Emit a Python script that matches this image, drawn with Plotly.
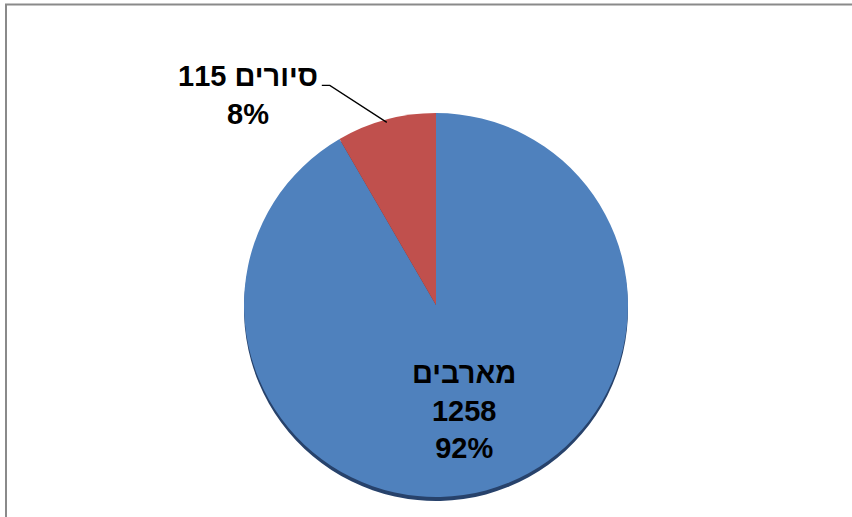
import math
import plotly.graph_objects as go

# ---- data ----
labels = ["מארבים", "סיורים"]
values = [1258, 115]
percent_text = ["92%", "8%"]
colors = ["#4f81bd", "#c0504d"]
shadow_colors = ["#27426b", "#6e2b29"]

W, H = 852, 517
cx, cy, r = 436, 305, 192  # pie centre / radius in pixels (from top-left)

def px_to_paper(x, y):
    return x / W, (H - y) / H

dom_x = [(cx - r) / W, (cx + r) / W]
dom_y = [(H - cy - r) / H, (H - cy + r) / H]
sh = 4  # shadow offset px
dom_y_sh = [(H - cy - r - sh) / H, (H - cy + r - sh) / H]

fig = go.Figure()
# soft shadow pie underneath
fig.add_trace(go.Pie(
    labels=labels, values=values, sort=False, direction="clockwise", rotation=0,
    marker=dict(colors=shadow_colors, line=dict(width=0)),
    textinfo="none", hoverinfo="skip", showlegend=False,
    domain=dict(x=dom_x, y=dom_y_sh),
))
fig.add_trace(go.Pie(
    labels=labels, values=values, sort=False, direction="clockwise", rotation=0,
    marker=dict(colors=colors, line=dict(width=0)),
    textinfo="none", showlegend=False,
    domain=dict(x=dom_x, y=dom_y),
))

total = sum(values)
# mid angles (clockwise from 12 o'clock)
cum = 0
mids = []
for v in values:
    mids.append((cum + v / 2) / total * 2 * math.pi)
    cum += v

font = dict(family="Liberation Sans, Arial, sans-serif", size=29, color="#000000", weight="bold")

# inside label for the big slice
a = mids[0]
lx = cx + 0.565 * r * math.sin(a)
ly = cy - 0.565 * r * math.cos(a) + 1
px, py = px_to_paper(lx, ly)
annotations = [dict(
    x=px, y=py, xref="paper", yref="paper", xanchor="center", yanchor="middle",
    text=f"{labels[0]}<br>{values[0]}<br>{percent_text[0]}", showarrow=False,
    font=font, align="center",
)]

# outside label with leader line for the small slice
a = mids[1]
tipx = cx + 0.985 * r * math.sin(a)
tipy = cy - 0.985 * r * math.cos(a)
elbx, elby = tipx - 57, tipy - 37
stx, sty = elbx - 8, elby
tx, ty = px_to_paper(stx - 74, elby + 10)
annotations.append(dict(
    x=tx, y=ty, xref="paper", yref="paper", xanchor="center", yanchor="middle",
    text=f"{values[1]} {labels[1]}<br>{percent_text[1]}", showarrow=False,
    font=font, align="center",
))

def P(x, y):
    X, Y = px_to_paper(x, y)
    return f"{X:.5f},{Y:.5f}"

shapes = [
    dict(type="path", xref="paper", yref="paper",
         path=f"M {P(stx, sty)} L {P(elbx, elby)} L {P(tipx, tipy)}",
         line=dict(color="#000000", width=1.3)),
    # chart frame (runs off the right/bottom edge)
    dict(type="rect", xref="paper", yref="paper",
         x0=6 / W, x1=1.05, y0=-0.05, y1=(H - 4.5) / H,
         line=dict(color="#8a8a8a", width=2), fillcolor="rgba(0,0,0,0)", layer="above"),
]

fig.update_layout(
    width=W, height=H,
    margin=dict(l=0, r=0, t=0, b=0),
    paper_bgcolor="#ffffff", plot_bgcolor="#ffffff",
    annotations=annotations, shapes=shapes,
    showlegend=False,
)

fig.write_html(
    "out.html",
    config={"displayModeBar": False},
    post_script="document.body.style.margin='0';document.body.style.overflow='hidden';",
)
